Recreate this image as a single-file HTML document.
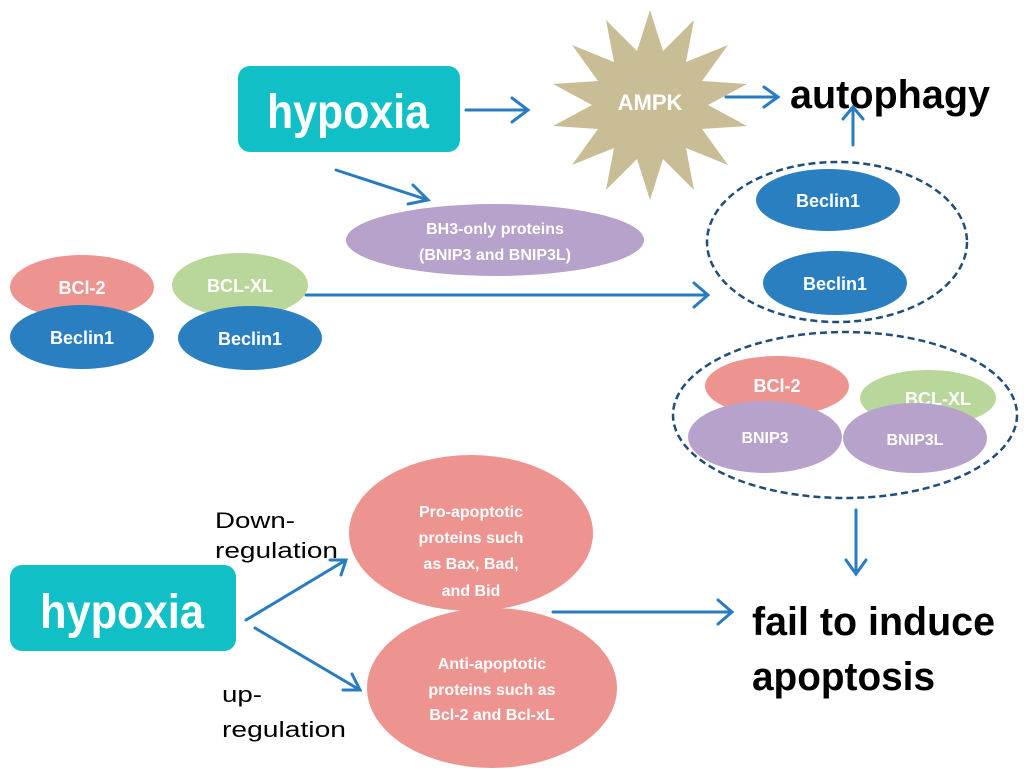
<!DOCTYPE html>
<html><head><meta charset="utf-8"><style>
html,body{margin:0;padding:0;background:#fff;width:1024px;height:770px;overflow:hidden}
text{font-family:"Liberation Sans",sans-serif}
.w{fill:#fff;font-weight:bold}
</style></head><body>
<svg width="1024" height="770" viewBox="0 0 1024 770" xmlns="http://www.w3.org/2000/svg">
<g stroke="#2a7cc0" stroke-width="3" fill="none" stroke-linecap="round">
<path d="M466 110H528M512 98L528 110L512 122"/>
<path d="M726 97H778M764 87L778 97L764 107"/>
<path d="M853 145V107M843 119L853 107L863 119"/>
<path d="M336 170L428 200M413 185L428 200L408 204"/>
<path d="M306 295H708M694 283L708 295L694 307"/>
<path d="M856 510V574M846 560L856 574L866 560"/>
<path d="M246 620L346 560M330 560L346 560L341 575"/>
<path d="M255 628L360 690M352 674L360 690L343 690"/>
<path d="M553 612H732M718 600L732 612L718 624"/>
</g>
<rect x="238" y="66" width="222" height="86" rx="12" fill="#11bfc6"/>
<text x="267" y="128" class="w" font-size="48" textLength="162" lengthAdjust="spacingAndGlyphs">hypoxia</text>
<rect x="10" y="565" width="226" height="86" rx="12" fill="#11bfc6"/>
<text x="40" y="628" class="w" font-size="48" textLength="164" lengthAdjust="spacingAndGlyphs">hypoxia</text>
<polygon fill="#c9bd96" points="650,10 663,51 694,20 686,62 728,45 702,81 747,84 708,105 747,126 702,129 728,165 686,148 694,190 663,159 650,200 637,159 606,190 614,148 572,165 598,129 553,126 592,105 553,84 598,81 572,45 614,62 606,20 637,51"/>
<text x="650" y="110" class="w" font-size="22" text-anchor="middle">AMPK</text>
<text x="790" y="108" font-size="40" font-weight="bold" textLength="200" lengthAdjust="spacingAndGlyphs">autophagy</text>
<ellipse cx="495" cy="240" rx="149" ry="36" fill="#b6a2ca"/>
<text x="495" y="234" class="w" font-size="16" text-anchor="middle">BH3-only proteins</text>
<text x="495" y="260" class="w" font-size="16" text-anchor="middle">(BNIP3 and BNIP3L)</text>
<ellipse cx="837" cy="242" rx="130" ry="80" fill="none" stroke="#1f4e79" stroke-width="2.5" stroke-dasharray="7,4"/>
<ellipse cx="828" cy="200" rx="72" ry="31" fill="#2a7fc0"/>
<text x="828" y="207" class="w" font-size="18" text-anchor="middle">Beclin1</text>
<ellipse cx="835" cy="283" rx="72" ry="32" fill="#2a7fc0"/>
<text x="835" y="290" class="w" font-size="18" text-anchor="middle">Beclin1</text>
<ellipse cx="82" cy="287" rx="72" ry="32" fill="#ee9490"/>
<text x="82" y="294" class="w" font-size="18" text-anchor="middle">BCl-2</text>
<ellipse cx="82" cy="337" rx="72" ry="32" fill="#2a7fc0"/>
<text x="82" y="344" class="w" font-size="18" text-anchor="middle">Beclin1</text>
<ellipse cx="240" cy="285" rx="68" ry="32" fill="#b9d79a"/>
<text x="240" y="292" class="w" font-size="18" text-anchor="middle">BCL-XL</text>
<ellipse cx="250" cy="338" rx="72" ry="32" fill="#2a7fc0"/>
<text x="250" y="345" class="w" font-size="18" text-anchor="middle">Beclin1</text>
<ellipse cx="845" cy="415" rx="172" ry="83" fill="none" stroke="#1f4e79" stroke-width="2.5" stroke-dasharray="7,4"/>
<ellipse cx="777" cy="386" rx="72" ry="30" fill="#ee9490"/>
<text x="777" y="392" class="w" font-size="18" text-anchor="middle">BCl-2</text>
<ellipse cx="928" cy="398" rx="68" ry="28" fill="#b9d79a"/>
<text x="938" y="405" class="w" font-size="18" text-anchor="middle">BCL-XL</text>
<ellipse cx="765" cy="437" rx="77" ry="36" fill="#b6a2ca"/>
<text x="765" y="443" class="w" font-size="16" text-anchor="middle">BNIP3</text>
<ellipse cx="915" cy="438" rx="72" ry="35" fill="#b6a2ca"/>
<text x="915" y="445" class="w" font-size="16" text-anchor="middle">BNIP3L</text>
<text x="752" y="635" font-size="40" font-weight="bold" textLength="243" lengthAdjust="spacingAndGlyphs">fail to induce</text>
<text x="752" y="690" font-size="40" font-weight="bold" textLength="183" lengthAdjust="spacingAndGlyphs">apoptosis</text>
<text x="215" y="528" font-size="22" textLength="80" lengthAdjust="spacingAndGlyphs">Down-</text>
<text x="215" y="558" font-size="22" textLength="123" lengthAdjust="spacingAndGlyphs">regulation</text>
<text x="222" y="702" font-size="22" textLength="40" lengthAdjust="spacingAndGlyphs">up-</text>
<text x="222" y="737" font-size="22" textLength="124" lengthAdjust="spacingAndGlyphs">regulation</text>
<ellipse cx="471" cy="533" rx="122" ry="78" fill="#ee9490"/>
<g font-size="16" text-anchor="middle">
<text x="471" y="517" class="w">Pro-apoptotic</text>
<text x="471" y="543" class="w">proteins such</text>
<text x="471" y="569" class="w">as Bax, Bad,</text>
<text x="471" y="596" class="w">and Bid</text>
</g>
<ellipse cx="492" cy="688" rx="125" ry="80" fill="#ee9490"/>
<g font-size="16" text-anchor="middle">
<text x="492" y="669" class="w">Anti-apoptotic</text>
<text x="492" y="695" class="w">proteins such as</text>
<text x="492" y="720" class="w">Bcl-2 and Bcl-xL</text>
</g>
</svg>
</body></html>
